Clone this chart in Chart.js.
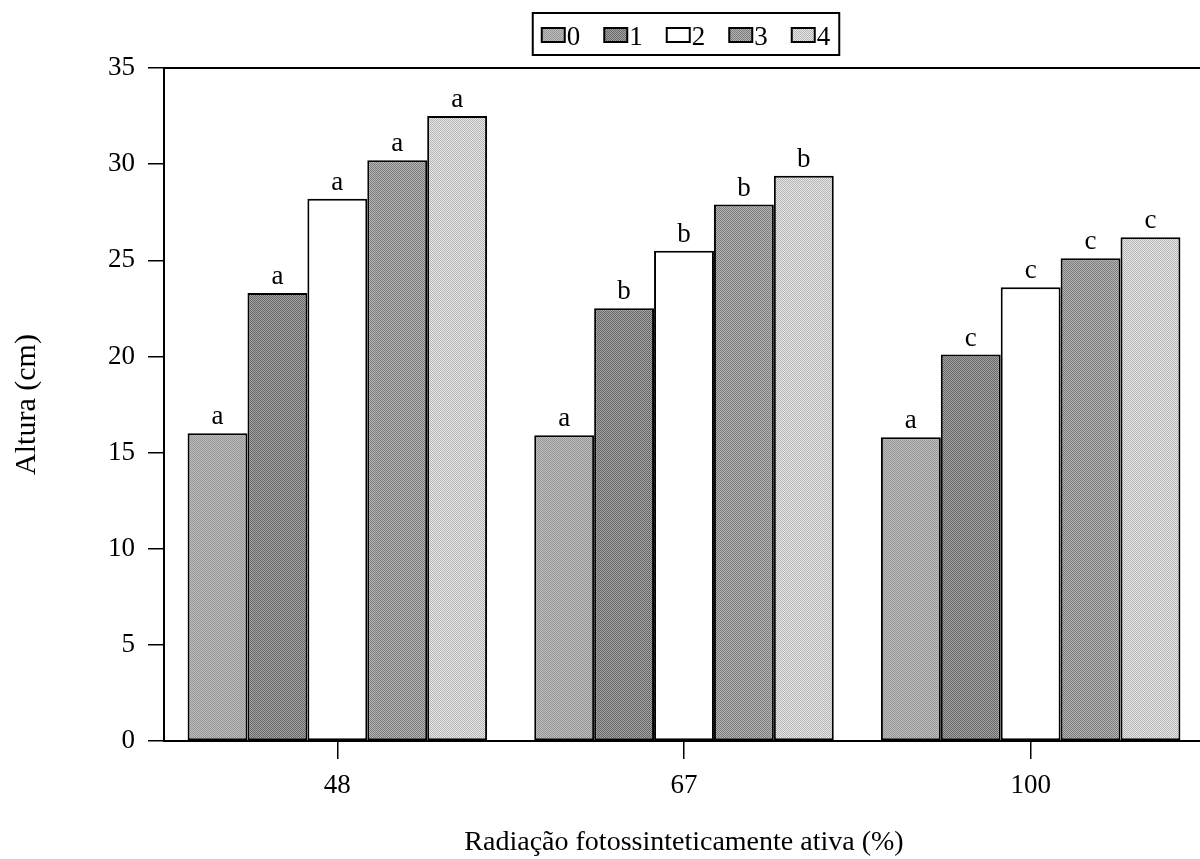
<!DOCTYPE html>
<html>
<head>
<meta charset="utf-8">
<script src="https://cdn.jsdelivr.net/npm/chart.js@4"></script>
<style>
  html, body { margin: 0; padding: 0; background: #fff; overflow: hidden; }
  #wrap { width: 1204px; height: 859px; }
</style>
</head>
<body>
<div id="wrap"><canvas id="chart"></canvas></div>
<script>
// categories (x axis) and treatment series
const categories = ["48", "67", "100"];
const seriesNames = ["0", "1", "2", "3", "4"];

const serie0 = [16.0, 15.9, 15.8];
const serie1 = [23.3, 22.5, 20.1];
const serie2 = [28.2, 25.5, 23.6];
const serie3 = [30.2, 27.9, 25.1];
const serie4 = [32.5, 29.4, 26.2];

// significance letters above each bar
const letras0 = ["a", "a", "a"];
const letras1 = ["a", "b", "c"];
const letras2 = ["a", "b", "c"];
const letras3 = ["a", "b", "c"];
const letras4 = ["a", "b", "c"];

const yTicks = [0, 5, 10, 15, 20, 25, 30, 35];

const FONT = "'Liberation Serif', 'Times New Roman', serif";

// small stipple pattern so the bars look like the printed shading
function stipple(light, dark) {
    let c = document.createElement("canvas");
    c.width = 2; c.height = 2;
    let g = c.getContext("2d");
    g.fillStyle = light;
    g.fillRect(0, 0, 2, 2);
    g.fillStyle = dark;
    g.fillRect(0, 0, 1, 1);
    g.fillRect(1, 1, 1, 1);
    return g.createPattern(c, "repeat");
}

const fills = [
    stipple("#bcbcbc", "#979797"),
    stipple("#a4a4a4", "#666666"),
    "#ffffff",
    stipple("#b6b6b6", "#7a7a7a"),
    stipple("#e6e6e6", "#b6b6b6")
];

const allSeries = [serie0, serie1, serie2, serie3, serie4];
const allLetters = [letras0, letras1, letras2, letras3, letras4];

const letterPlugin = {
    id: "letters",
    afterDatasetsDraw(chart) {
        let ctx = chart.ctx;
        ctx.save();
        ctx.fillStyle = "#000";
        ctx.font = "27px " + FONT;
        ctx.textAlign = "center";
        ctx.textBaseline = "alphabetic";
        allLetters.forEach((letters, i) => {
            let meta = chart.getDatasetMeta(i);
            meta.data.forEach((bar, j) => {
                ctx.fillText(letters[j], bar.x, bar.y - 9);
            });
        });
        ctx.restore();
    }
};

const framePlugin = {
    id: "frame",
    afterDraw(chart) {
        let a = chart.chartArea;
        let ctx = chart.ctx;
        ctx.save();
        ctx.strokeStyle = "#000";
        ctx.lineWidth = 2;
        ctx.beginPath();
        ctx.moveTo(a.left, a.top);
        ctx.lineTo(a.right, a.top);
        ctx.lineTo(a.right, a.bottom);
        ctx.stroke();

        // legend box on top, centred over the plot
        ctx.font = "27px " + FONT;
        ctx.textBaseline = "alphabetic";
        ctx.textAlign = "left";
        let sw = 23, sh = 14, gap = 2, spacing = 24, pad = 9;
        let widths = seriesNames.map(n => ctx.measureText(n).width);
        let total = widths.reduce((s, w) => s + sw + gap + w, 0) + spacing * (seriesNames.length - 1);
        let cx = (a.left + a.right) / 2 + 2;
        let x = cx - total / 2;
        ctx.lineWidth = 2;
        ctx.strokeRect(x - pad, 13, total + pad * 2, 42);
        seriesNames.forEach((n, i) => {
            ctx.fillStyle = fills[i];
            ctx.fillRect(x, 28, sw, sh);
            ctx.lineWidth = 2;
            ctx.strokeRect(x, 28, sw, sh);
            ctx.fillStyle = "#000";
            ctx.fillText(n, x + sw + gap, 45);
            x += sw + gap + widths[i] + spacing;
        });
        ctx.restore();
    }
};

new Chart(document.getElementById("chart"), {
    type: "bar",
    data: {
        labels: categories,
        datasets: allSeries.map((s, i) => ({
            label: seriesNames[i],
            data: s,
            backgroundColor: fills[i],
            borderColor: "#000",
            borderWidth: 2,
            borderSkipped: false,
            categoryPercentage: 0.864,
            barPercentage: 1.0
        }))
    },
    options: {
        responsive: true,
        maintainAspectRatio: false,
        animation: false,
        layout: { padding: { top: 68, left: 7, right: 0, bottom: 0 } },
        plugins: {
            legend: { display: false },
            tooltip: { enabled: false }
        },
        scales: {
            x: {
                grid: {
                    display: true,
                    drawOnChartArea: false,
                    drawTicks: true,
                    tickLength: 18,
                    offset: false,
                    color: "#000",
                    lineWidth: 1.5
                },
                border: { display: true, color: "#000", width: 2 },
                ticks: {
                    color: "#000",
                    font: { family: FONT, size: 27 },
                    padding: 11
                },
                title: {
                    display: true,
                    text: "Radiação fotossinteticamente ativa (%)",
                    color: "#000",
                    font: { family: FONT, size: 28 },
                    padding: { top: 0, bottom: 0 }
                },
                afterFit(scale) { scale.height = 118; }
            },
            y: {
                min: 0,
                max: 35,
                afterBuildTicks(scale) {
                    scale.ticks = yTicks.map(v => ({ value: v }));
                },
                grid: {
                    display: true,
                    drawOnChartArea: false,
                    drawTicks: true,
                    tickLength: 16,
                    color: "#000",
                    lineWidth: 1.5
                },
                border: { display: true, color: "#000", width: 2 },
                ticks: {
                    color: "#000",
                    font: { family: FONT, size: 27 },
                    padding: 13
                },
                title: {
                    display: true,
                    text: "Altura (cm)",
                    color: "#000",
                    font: { family: FONT, size: 30 },
                    padding: { top: 2, bottom: 0 }
                },
                afterFit(scale) { scale.width = 157; }
            }
        }
    },
    plugins: [letterPlugin, framePlugin]
});
</script>
</body>
</html>
